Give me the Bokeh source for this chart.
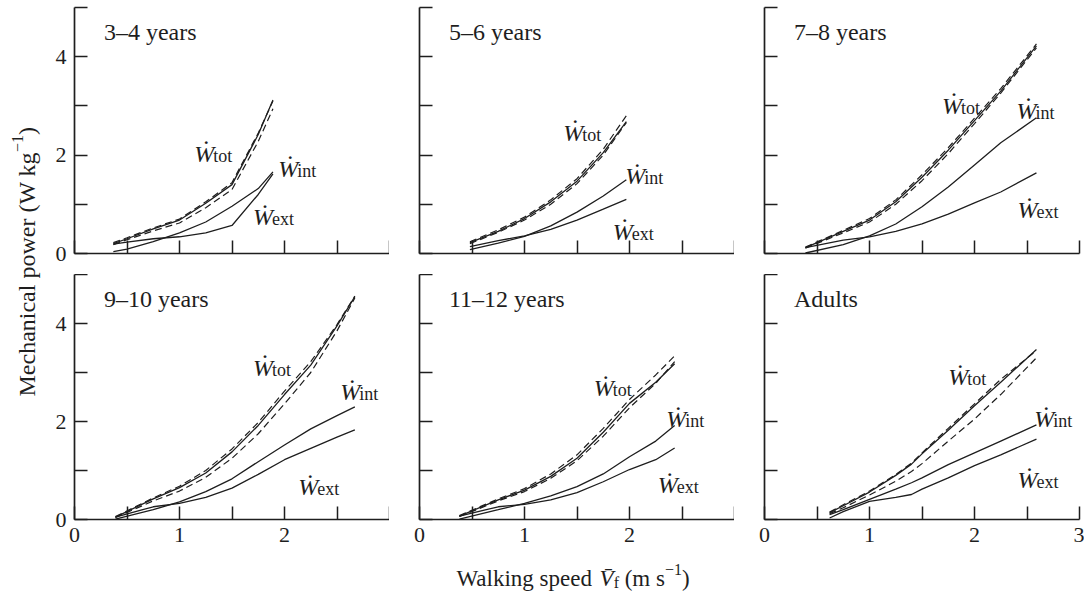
from bokeh.plotting import figure
from bokeh.layouts import row, column
from bokeh.models import Range1d, FixedTicker, Label, ColumnDataSource, CustomLabelingPolicy
from bokeh.core.properties import value
from bokeh.embed import file_html
from bokeh.resources import INLINE

FONT = "Liberation Serif"
INK = "#1e1e1e"

AGE_GROUPS = ["3–4 years", "5–6 years", "7–8 years", "9–10 years", "11–12 years", "Adults"]

# walking speed (m/s) and mechanical power (W/kg) per age group
SPEED_3_4 = [0.37, 0.5, 0.75, 1.0, 1.25, 1.5, 1.75, 1.89]
WTOT_3_4 = [0.20, 0.30, 0.50, 0.68, 1.02, 1.40, 2.42, 3.12]
WTOT_HI_3_4 = [0.22, 0.32, 0.52, 0.70, 1.05, 1.44, 2.45, 3.10]
WTOT_LO_3_4 = [0.18, 0.28, 0.46, 0.62, 0.93, 1.30, 2.28, 2.94]
WINT_3_4 = [0.04, 0.09, 0.24, 0.42, 0.64, 0.96, 1.32, 1.66]
WEXT_3_4 = [0.19, 0.23, 0.30, 0.34, 0.42, 0.57, 1.20, 1.62]

SPEED_5_6 = [0.48, 0.75, 1.0, 1.25, 1.5, 1.75, 1.97]
WTOT_5_6 = [0.22, 0.45, 0.71, 1.05, 1.47, 2.05, 2.68]
WTOT_HI_5_6 = [0.24, 0.48, 0.74, 1.09, 1.52, 2.12, 2.80]
WTOT_LO_5_6 = [0.20, 0.43, 0.68, 1.00, 1.42, 2.00, 2.66]
WINT_5_6 = [0.08, 0.21, 0.35, 0.56, 0.84, 1.17, 1.50]
WEXT_5_6 = [0.14, 0.26, 0.36, 0.49, 0.68, 0.90, 1.10]

SPEED_7_8 = [0.39, 0.75, 1.0, 1.25, 1.5, 1.75, 2.0, 2.25, 2.59]
WTOT_7_8 = [0.12, 0.45, 0.68, 1.05, 1.55, 2.10, 2.70, 3.30, 4.22]
WTOT_HI_7_8 = [0.13, 0.47, 0.71, 1.09, 1.60, 2.15, 2.75, 3.35, 4.26]
WTOT_LO_7_8 = [0.11, 0.42, 0.64, 1.00, 1.48, 2.03, 2.64, 3.26, 4.18]
WINT_7_8 = [0.01, 0.18, 0.36, 0.60, 0.95, 1.35, 1.80, 2.25, 2.76]
WEXT_7_8 = [0.12, 0.27, 0.34, 0.45, 0.60, 0.80, 1.03, 1.25, 1.64]

SPEED_9_10 = [0.39, 0.75, 1.0, 1.25, 1.5, 1.75, 2.0, 2.25, 2.5, 2.67]
WTOT_9_10 = [0.05, 0.42, 0.65, 0.95, 1.38, 1.92, 2.55, 3.15, 3.95, 4.55]
WTOT_HI_9_10 = [0.06, 0.44, 0.68, 1.00, 1.44, 1.98, 2.62, 3.22, 3.98, 4.56]
WTOT_LO_9_10 = [0.04, 0.38, 0.58, 0.86, 1.25, 1.75, 2.36, 3.00, 3.85, 4.52]
WINT_9_10 = [0.01, 0.20, 0.36, 0.57, 0.83, 1.18, 1.52, 1.85, 2.12, 2.30]
WEXT_9_10 = [0.05, 0.26, 0.33, 0.45, 0.64, 0.92, 1.22, 1.45, 1.68, 1.83]

SPEED_11_12 = [0.38, 0.75, 1.0, 1.25, 1.5, 1.75, 2.0, 2.25, 2.43]
WTOT_11_12 = [0.07, 0.40, 0.60, 0.88, 1.25, 1.78, 2.37, 2.80, 3.18]
WTOT_HI_11_12 = [0.08, 0.42, 0.63, 0.93, 1.32, 1.86, 2.45, 2.95, 3.34]
WTOT_LO_11_12 = [0.06, 0.38, 0.57, 0.84, 1.20, 1.70, 2.28, 2.78, 3.22]
WINT_11_12 = [0.01, 0.20, 0.33, 0.48, 0.67, 0.93, 1.28, 1.60, 1.92]
WEXT_11_12 = [0.07, 0.26, 0.31, 0.40, 0.55, 0.77, 1.02, 1.22, 1.46]

SPEED_ADULT = [0.62, 0.75, 1.0, 1.25, 1.4, 1.5, 1.75, 2.0, 2.25, 2.59]
WTOT_ADULT = [0.14, 0.28, 0.56, 0.90, 1.13, 1.34, 1.82, 2.32, 2.80, 3.47]
WTOT_HI_ADULT = [0.15, 0.30, 0.58, 0.92, 1.15, 1.36, 1.86, 2.36, 2.86, 3.45]
WTOT_LO_ADULT = [0.12, 0.24, 0.50, 0.78, 0.98, 1.14, 1.60, 2.05, 2.55, 3.30]
WINT_ADULT = [0.10, 0.20, 0.41, 0.62, 0.75, 0.85, 1.12, 1.36, 1.60, 1.93]
WEXT_ADULT = [0.03, 0.16, 0.37, 0.45, 0.51, 0.62, 0.85, 1.10, 1.32, 1.64]

SERIES = [
    (SPEED_3_4, WTOT_3_4, WTOT_HI_3_4, WTOT_LO_3_4, WINT_3_4, WEXT_3_4),
    (SPEED_5_6, WTOT_5_6, WTOT_HI_5_6, WTOT_LO_5_6, WINT_5_6, WEXT_5_6),
    (SPEED_7_8, WTOT_7_8, WTOT_HI_7_8, WTOT_LO_7_8, WINT_7_8, WEXT_7_8),
    (SPEED_9_10, WTOT_9_10, WTOT_HI_9_10, WTOT_LO_9_10, WINT_9_10, WEXT_9_10),
    (SPEED_11_12, WTOT_11_12, WTOT_HI_11_12, WTOT_LO_11_12, WINT_11_12, WEXT_11_12),
    (SPEED_ADULT, WTOT_ADULT, WTOT_HI_ADULT, WTOT_LO_ADULT, WINT_ADULT, WEXT_ADULT),
]

CURVE_SUBSCRIPTS = ["tot", "int", "ext"]
# label anchor (speed, power) for tot, int, ext in each panel
LABEL_ANCHORS = [
    [(1.14, 2.03), (1.94, 1.72), (1.70, 0.74)],
    [(1.37, 2.45), (1.96, 1.57), (1.84, 0.44)],
    [(1.69, 3.00), (2.40, 2.90), (2.41, 0.88)],
    [(1.70, 3.10), (2.53, 2.60), (2.13, 0.66)],
    [(1.66, 2.68), (2.35, 2.05), (2.27, 0.70)],
    [(1.75, 2.90), (2.57, 2.05), (2.41, 0.80)],
]

X_TICKS = [0, 1, 2, 3]
X_MINOR = [0.5, 1.5, 2.5]
Y_TICKS = [0, 2, 4]
Y_MINOR = [1, 3, 5]

TW = {'W': 944, 'a': 444, 'l': 278, 'k': 500, 'i': 278, 'n': 500, 'g': 500, ' ': 250,
      's': 389, 'p': 500, 'e': 444, 'd': 500, '(': 333, 'm': 778, ')': 333, '−': 564,
      '1': 500, 'f': 333, 'V': 611, 'M': 889, 'c': 444, 'h': 500, 'o': 500, 'w': 722,
      'r': 333, '\u0304': 0}


def tw(s, size):
    return sum(TW.get(ch, 500) for ch in s) * size / 1000.0


def style_axis(ax, show_labels):
    ax.axis_line_color = INK
    ax.axis_line_width = 1.7
    ax.major_tick_line_color = INK
    ax.major_tick_line_width = 1.5
    ax.minor_tick_line_color = INK
    ax.minor_tick_line_width = 1.5
    ax.major_tick_in = 13
    ax.major_tick_out = 0
    ax.minor_tick_in = 13
    ax.minor_tick_out = 0
    ax.major_label_text_font = FONT
    ax.major_label_text_color = INK
    if show_labels:
        ax.major_label_text_font_size = "22px"
        ax.major_label_standoff = 8
    else:
        ax.major_label_text_font_size = "0px"
        ax.major_label_standoff = 0
        ax.major_label_policy = CustomLabelingPolicy(
            code="for (const i of indices) indices.unset(i); return indices")


W_LEFT = 46
H_TOTAL = 592


def make_panel(i):
    r, c = divmod(i, 3)
    left = 28 if c == 0 else 30
    right = 5 if c == 2 else 0
    top = 7 if r == 0 else 0
    bottom = 21 if r == 0 else 40
    frame_h = 246 if r == 0 else 245
    p = figure(width=left + 315 + right, height=top + frame_h + bottom,
               x_range=Range1d(0, 3), y_range=Range1d(0, 5),
               output_backend="svg", toolbar_location=None,
               min_border_left=left, min_border_right=right,
               min_border_top=top, min_border_bottom=bottom)
    p.outline_line_color = None
    p.xgrid.visible = False
    p.ygrid.visible = False
    p.background_fill_color = "white"
    p.border_fill_color = "white"

    p.xaxis.ticker = FixedTicker(ticks=X_TICKS, minor_ticks=X_MINOR)
    p.yaxis.ticker = FixedTicker(ticks=Y_TICKS, minor_ticks=Y_MINOR)
    style_axis(p.xaxis[0], r == 1)
    style_axis(p.yaxis[0], c == 0)
    if c < 2:
        p.xaxis.major_label_overrides = {3: ""}

    speed, wtot, hi, lo, wint, wext = SERIES[i]
    for ys in (hi, lo):
        p.line(speed, ys, line_color=INK, line_width=1.2, line_dash="7 4")
    for ys in (wtot, wint, wext):
        p.line(speed, ys, line_color=INK, line_width=1.3)

    anchors = LABEL_ANCHORS[i]
    src = ColumnDataSource(dict(x=[a[0] for a in anchors], y=[a[1] for a in anchors],
                                w=["W"] * 3, dot=["."] * 3, sub=CURVE_SUBSCRIPTS))
    p.text(x="x", y="y", text="w", source=src, text_font=value(FONT),
           text_font_style="italic", text_font_size="24px", text_color=INK,
           text_align="left", text_baseline="alphabetic")
    p.text(x="x", y="y", text="dot", source=src, text_font=value(FONT),
           text_font_size="24px", text_color=INK, x_offset=12, y_offset=-17,
           text_align="center", text_baseline="alphabetic")
    p.text(x="x", y="y", text="sub", source=src, text_font=value(FONT),
           text_font_size="18px", text_color=INK, x_offset=19, y_offset=2,
           text_align="left", text_baseline="alphabetic")

    p.add_layout(Label(x=0.28, y=4.5, text=AGE_GROUPS[i], text_font=FONT,
                       text_font_size="24px", text_color=INK,
                       text_baseline="alphabetic", text_align="left"))
    return p


panels = [make_panel(i) for i in range(6)]
grid_w = sum(p.width for p in panels[:3])
rows_h = panels[0].height + panels[3].height
XT_H = H_TOTAL - rows_h

# y-axis title (rotated), built from pieces; coordinates are canvas pixels
yt = figure(width=W_LEFT, height=H_TOTAL, x_range=Range1d(0, W_LEFT),
            y_range=Range1d(0, H_TOTAL), output_backend="svg",
            toolbar_location=None, min_border=0)
yt.axis.visible = False
yt.grid.visible = False
yt.outline_line_color = None
y_pieces = [("Mechanical power (W kg", 24, 0), ("−1", 16, 9), (")", 24, 0)]
ypos = H_TOTAL - 396.0
for txt, size, raise_px in y_pieces:
    yt.text(x=[26 - raise_px], y=[ypos], text=[txt], angle=1.5707963,
            text_font=value(FONT), text_font_size=f"{size}px", text_color=INK,
            text_align="left", text_baseline="alphabetic")
    ypos += tw(txt, size)

# x-axis title, built from pieces (leading blanks become explicit advances)
xt = figure(width=grid_w, height=XT_H, x_range=Range1d(0, grid_w), y_range=Range1d(0, XT_H),
            output_backend="svg", toolbar_location=None, min_border=0)
xt.axis.visible = False
xt.grid.visible = False
xt.outline_line_color = None
x_pieces = [("Walking speed", 23, "normal", 0, 0.0), ("V\u0304", 23, "italic", 0, 1.0),
            ("f", 16, "normal", -4, 0.0), ("(m s", 23, "normal", 0, 1.0),
            ("−1", 16, "normal", 9, 0.0), (")", 23, "normal", 0, 0.0)]
xpos = 456.0 - W_LEFT
base = H_TOTAL - 578.0
for txt, size, style, shift, gap in x_pieces:
    xpos += gap * tw(" ", size)
    xt.text(x=[xpos], y=[base + shift], text=[txt], text_font=value(FONT),
            text_font_size=f"{size}px", text_font_style=style, text_color=INK,
            text_align="left", text_baseline="alphabetic")
    xpos += tw(txt, size)

layout = row(yt, column(row(*panels[:3]), row(*panels[3:]), xt))

open("out.html", "w").write(file_html(layout, INLINE))
